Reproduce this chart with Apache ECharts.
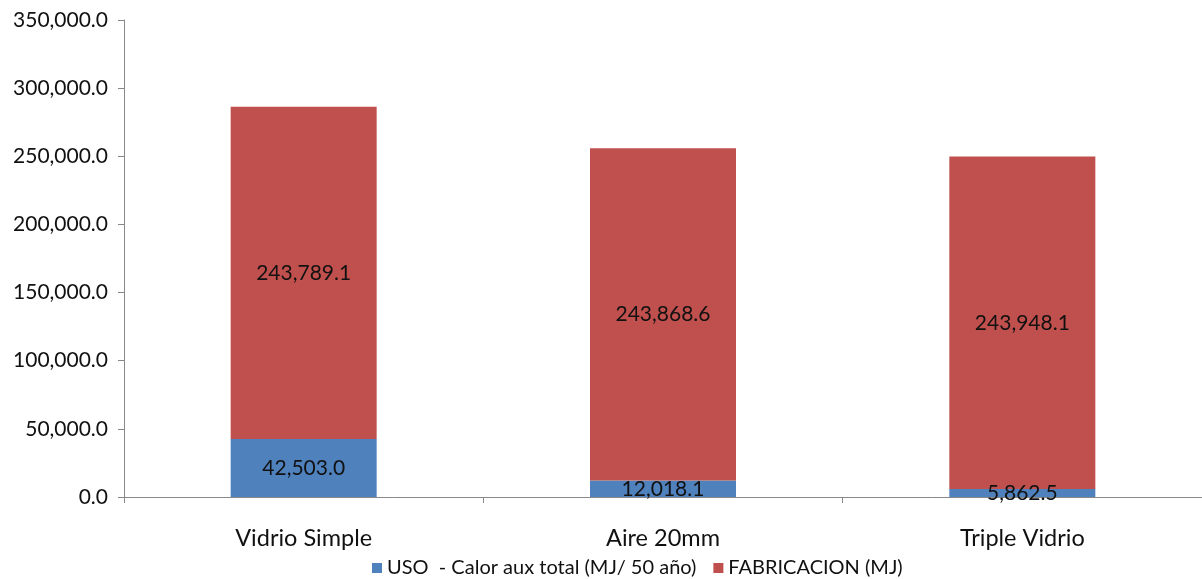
<!DOCTYPE html>
<html><head><meta charset="utf-8">
<script src="https://cdn.jsdelivr.net/npm/echarts@6/dist/echarts.min.js"></script>
<style>html,body{margin:0;padding:0;background:#fff}#c{width:1202px;height:579px}</style>
</head><body><div id="c"></div>
<script>
const categories = ['Vidrio Simple', 'Aire 20mm', 'Triple Vidrio'];
const usoValues = [42503.0, 12018.1, 5862.5];
const fabValues = [243789.1, 243868.6, 243948.1];
const seriesNames = ['USO  - Calor aux total (MJ/ 50 año)', 'FABRICACION (MJ)'];
const FONT = 'Lato';
function fmt(v){ return v.toLocaleString('en-US',{minimumFractionDigits:1,maximumFractionDigits:1}); }
const chart = echarts.init(document.getElementById('c'));
const lbl = {show:true, position:'inside', color:'#111', fontFamily:FONT, fontSize:21, formatter:p=>fmt(p.value)};
chart.setOption({
  animation:false,
  grid:{left:124, right:-5, top:20, bottom:82, containLabel:false},
  legend:{bottom:-4, left:367, itemWidth:10, itemHeight:10, itemGap:17,
    icon:'rect', textStyle:{fontFamily:FONT, fontSize:20, color:'#111'}},
  xAxis:{type:'category', data:categories,
    axisLine:{lineStyle:{color:'#888', width:1}},
    axisTick:{show:true, length:6, lineStyle:{color:'#888'}, alignWithLabel:false},
    axisLabel:{fontFamily:FONT, fontSize:23.5, color:'#111', margin:29}},
  yAxis:{type:'value', min:0, max:350000, interval:50000,
    axisLine:{show:true, lineStyle:{color:'#888'}},
    axisTick:{show:true, length:6, lineStyle:{color:'#888'}},
    splitLine:{show:false},
    axisLabel:{fontFamily:FONT, fontSize:21, color:'#111', margin:16, formatter:v=>fmt(v)}},
  series:[
    {name:seriesNames[0], type:'bar', stack:'a', data:usoValues, barWidth:146,
     itemStyle:{color:'#4F81BD'}, label:lbl},
    {name:seriesNames[1], type:'bar', stack:'a', data:fabValues, barWidth:146,
     itemStyle:{color:'#C0504D'}, label:lbl}
  ]
});
</script></body></html>
